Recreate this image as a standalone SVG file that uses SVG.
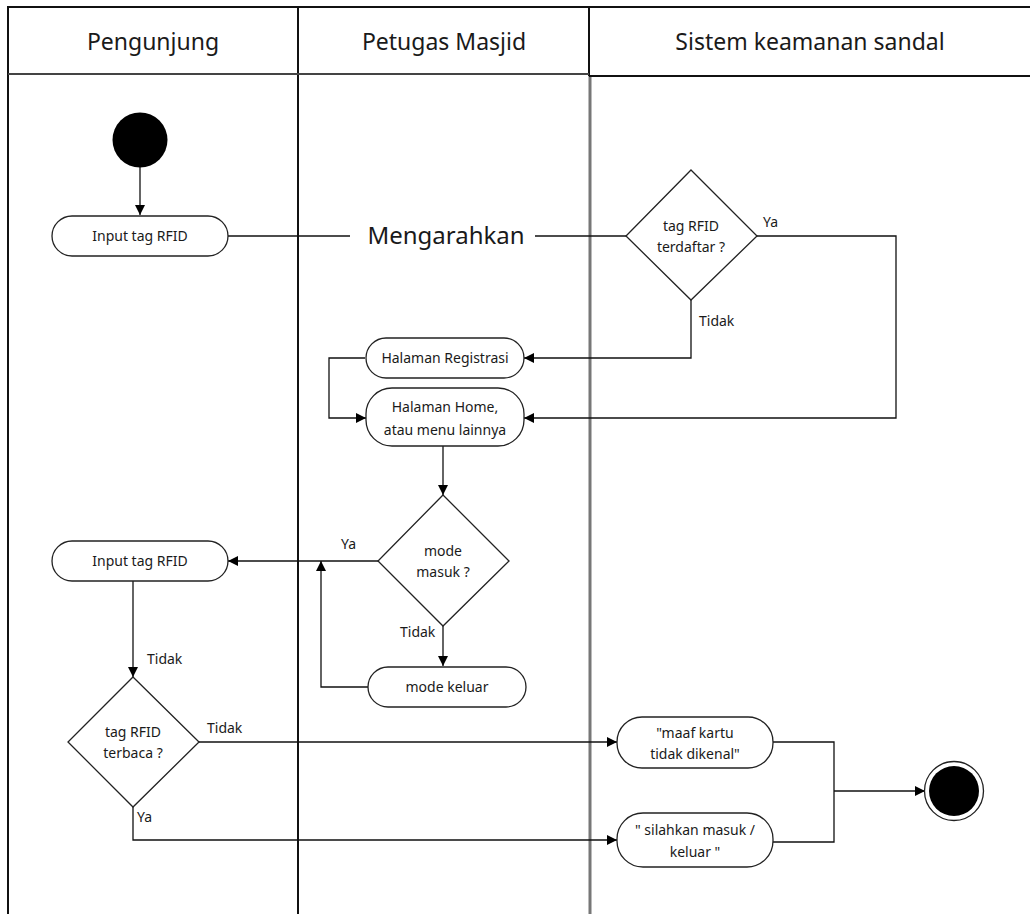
<svg xmlns="http://www.w3.org/2000/svg" width="1030" height="914" viewBox="0 0 1030 914">
  <style>
    text { font-family: "Noto Sans", "Open Sans", sans-serif; fill: #1a1a1a; }
    .lane-title { font-size: 23px; text-anchor: middle; }
    .node-text { font-size: 14px; text-anchor: middle; }
    .label { font-size: 14px; }
    .action { fill: #ffffff; stroke: #222; stroke-width: 1.3; }
    .decision { fill: #ffffff; stroke: #222; stroke-width: 1.3; }
    .edge { fill: none; stroke: #111; stroke-width: 1.3; }
    .frame { fill: none; stroke: #111; stroke-width: 2; }
  </style>
  <defs>
    <marker id="arrow" viewBox="0 0 10 10" refX="10" refY="5" markerWidth="10" markerHeight="10" markerUnits="userSpaceOnUse" orient="auto">
      <path d="M0,0 L10,5 L0,10 Z" fill="#000"/>
    </marker>
  </defs>

  <rect width="1030" height="914" fill="#ffffff"/>

  <!-- swimlanes -->
  <g id="swimlanes">
    <line class="frame" x1="7" y1="7" x2="1030" y2="7"/>
    <line class="frame" x1="8" y1="7" x2="8" y2="914"/>
    <line class="frame" x1="298" y1="7" x2="298" y2="914"/>
    <line class="frame" x1="589" y1="7" x2="589" y2="76"/>
    <line x1="590" y1="76" x2="590" y2="914" stroke="#777" stroke-width="3"/>
    <line x1="8" y1="74" x2="589" y2="74" stroke="#444" stroke-width="2"/>
    <line class="frame" x1="589" y1="76" x2="1030" y2="76"/>
    <text class="lane-title" x="153" y="50">Pengunjung</text>
    <text class="lane-title" x="444" y="50">Petugas Masjid</text>
    <text class="lane-title" x="810" y="50">Sistem keamanan sandal</text>
  </g>

  <!-- connectors -->
  <g id="connectors">
    <line class="edge" x1="140" y1="167" x2="140" y2="215" marker-end="url(#arrow)"/>
    <line class="edge" x1="228" y1="236" x2="350" y2="236"/>
    <line class="edge" x1="535" y1="236" x2="626" y2="236"/>
    <text x="446" y="244" style="font-size:24px;text-anchor:middle">Mengarahkan</text>
    <polyline class="edge" points="757,236 896,236 896,418 524,418" marker-end="url(#arrow)"/>
    <text class="label" x="763" y="227">Ya</text>
    <polyline class="edge" points="691,300 691,358 524,358" marker-end="url(#arrow)"/>
    <text class="label" x="699" y="326">Tidak</text>
    <polyline class="edge" points="365,358 329,358 329,418 366,418" marker-end="url(#arrow)"/>
    <line class="edge" x1="443" y1="446" x2="443" y2="495" marker-end="url(#arrow)"/>
    <line class="edge" x1="378" y1="561" x2="228" y2="561" marker-end="url(#arrow)"/>
    <text class="label" x="341" y="549">Ya</text>
    <line class="edge" x1="443" y1="626" x2="443" y2="666" marker-end="url(#arrow)"/>
    <text class="label" x="400" y="637">Tidak</text>
    <polyline class="edge" points="368,687 321,687 321,561" marker-end="url(#arrow)"/>
    <line class="edge" x1="133" y1="581" x2="133" y2="677" marker-end="url(#arrow)"/>
    <text class="label" x="147" y="664">Tidak</text>
    <line class="edge" x1="199" y1="742" x2="617" y2="742" marker-end="url(#arrow)"/>
    <text class="label" x="207" y="733">Tidak</text>
    <polyline class="edge" points="133,807 133,840 617,840" marker-end="url(#arrow)"/>
    <text class="label" x="137" y="822">Ya</text>
    <polyline class="edge" points="773,742 834,742 834,842 773,842"/>
    <line class="edge" x1="834" y1="791" x2="925" y2="791" marker-end="url(#arrow)"/>
  </g>

  <!-- nodes -->
  <g id="start">
    <circle cx="140" cy="140" r="27.5" fill="#000"/>
  </g>

  <g id="input-rfid-1">
    <rect class="action" x="52" y="216" width="176" height="40" rx="20"/>
    <text class="node-text" x="140" y="241">Input tag RFID</text>
  </g>

  <g id="decision-terdaftar">
    <polygon class="decision" points="691,170 757,236 691,300 626,236"/>
    <text class="node-text" x="691" y="231">tag RFID</text>
    <text class="node-text" x="691" y="252">terdaftar ?</text>
  </g>

  <g id="halaman-registrasi">
    <rect class="action" x="366" y="338" width="158" height="40" rx="20"/>
    <text class="node-text" x="445" y="363">Halaman Registrasi</text>
  </g>

  <g id="halaman-home">
    <rect class="action" x="366" y="388" width="158" height="58" rx="26"/>
    <text class="node-text" x="445" y="412">Halaman Home,</text>
    <text class="node-text" x="445" y="435">atau menu lainnya</text>
  </g>

  <g id="decision-mode-masuk">
    <polygon class="decision" points="443,495 509,561 443,626 378,561"/>
    <text class="node-text" x="443" y="556">mode</text>
    <text class="node-text" x="443" y="577">masuk ?</text>
  </g>

  <g id="input-rfid-2">
    <rect class="action" x="52" y="541" width="176" height="40" rx="20"/>
    <text class="node-text" x="140" y="566">Input tag RFID</text>
  </g>

  <g id="mode-keluar">
    <rect class="action" x="368" y="667" width="158" height="40" rx="20"/>
    <text class="node-text" x="447" y="692">mode keluar</text>
  </g>

  <g id="decision-terbaca">
    <polygon class="decision" points="133,677 199,742 133,807 68,742"/>
    <text class="node-text" x="133" y="737">tag RFID</text>
    <text class="node-text" x="133" y="758">terbaca ?</text>
  </g>

  <g id="pesan-tidak-dikenal">
    <rect class="action" x="617" y="717" width="156" height="51" rx="25"/>
    <text class="node-text" x="695" y="738">"maaf kartu</text>
    <text class="node-text" x="695" y="759">tidak dikenal"</text>
  </g>

  <g id="pesan-silahkan">
    <rect class="action" x="617" y="813" width="156" height="54" rx="26"/>
    <text class="node-text" x="695" y="835">" silahkan masuk /</text>
    <text class="node-text" x="695" y="857">keluar "</text>
  </g>

  <g id="end">
    <circle cx="954" cy="791" r="29.5" fill="#fff" stroke="#222" stroke-width="1.3"/>
    <circle cx="954" cy="791" r="25" fill="#000"/>
  </g>
</svg>
